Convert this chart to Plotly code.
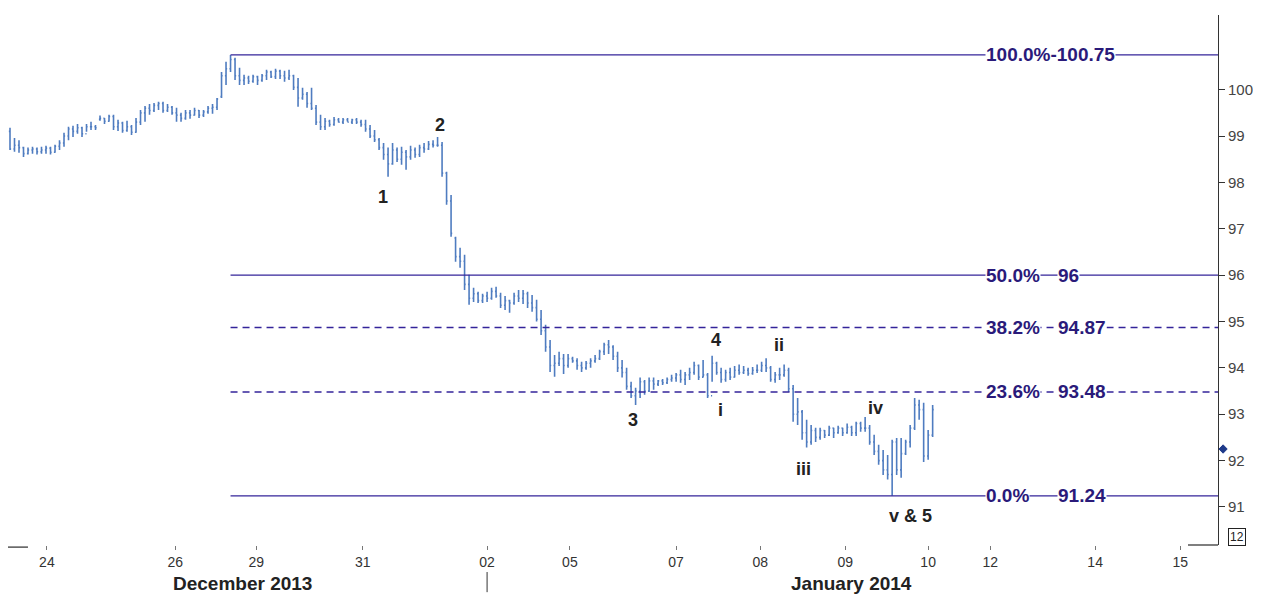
import plotly.graph_objects as go

# ---------------- data (hourly bars, 23 Dec 2013 - 10 Jan 2014) ----------------
high = [99.18, 98.96, 98.91, 98.77, 98.75, 98.77, 98.75, 98.77, 98.79, 98.77,
        98.81, 98.91, 99.07, 99.20, 99.22, 99.26, 99.20, 99.26, 99.31, 99.24,
        99.44, 99.39, 99.46, 99.46, 99.35, 99.31, 99.33, 99.24, 99.39, 99.56,
        99.65, 99.69, 99.71, 99.74, 99.74, 99.69, 99.65, 99.61, 99.50, 99.56,
        99.56, 99.61, 99.56, 99.56, 99.65, 99.69, 99.82, 100.38, 100.60, 100.75,
        100.69, 100.47, 100.32, 100.30, 100.32, 100.30, 100.34, 100.43, 100.41, 100.45,
        100.43, 100.41, 100.43, 100.32, 100.25, 100.04, 99.95, 100.04, 99.67, 99.46,
        99.39, 99.35, 99.41, 99.39, 99.39, 99.39, 99.37, 99.39, 99.35, 99.35,
        99.24, 99.13, 98.96, 98.85, 98.75, 98.85, 98.75, 98.77, 98.70, 98.79,
        98.75, 98.81, 98.85, 98.89, 98.91, 98.98, 98.87, 98.23, 97.73, 96.83,
        96.59, 96.44, 96.01, 95.73, 95.64, 95.60, 95.64, 95.73, 95.75, 95.62,
        95.55, 95.47, 95.62, 95.68, 95.68, 95.64, 95.57, 95.47, 95.25, 94.93,
        94.60, 94.28, 94.35, 94.30, 94.30, 94.24, 94.21, 94.13, 94.15, 94.21,
        94.28, 94.39, 94.54, 94.60, 94.49, 94.35, 94.17, 94.00, 93.70, 93.57,
        93.79, 93.74, 93.79, 93.79, 93.74, 93.76, 93.79, 93.85, 93.89, 93.96,
        93.91, 94.00, 94.13, 94.07, 94.17, 93.89, 94.26, 94.13, 94.00, 93.96,
        94.00, 94.04, 94.07, 94.04, 94.00, 94.02, 94.07, 94.13, 94.21, 94.04,
        93.91, 94.00, 94.07, 94.00, 93.63, 93.35, 93.09, 92.88, 92.77, 92.71,
        92.71, 92.66, 92.75, 92.71, 92.75, 92.71, 92.80, 92.75, 92.84, 92.84,
        92.94, 92.77, 92.56, 92.34, 92.23, 92.12, 92.45, 92.49, 92.49, 92.45,
        92.77, 93.35, 93.31, 93.25, 92.66, 93.20]

low = [98.70, 98.66, 98.64, 98.55, 98.60, 98.62, 98.60, 98.62, 98.62, 98.60,
       98.64, 98.70, 98.77, 98.91, 98.98, 99.05, 98.98, 99.09, 99.13, 99.13,
       99.33, 99.26, 99.31, 99.13, 99.11, 99.07, 99.09, 99.02, 99.07, 99.24,
       99.31, 99.46, 99.52, 99.56, 99.50, 99.52, 99.46, 99.31, 99.31, 99.35,
       99.37, 99.44, 99.39, 99.41, 99.48, 99.48, 99.56, 99.82, 100.10, 100.38,
       100.21, 100.10, 100.10, 100.12, 100.15, 100.10, 100.17, 100.21, 100.25, 100.23,
       100.23, 100.17, 100.21, 99.99, 99.63, 99.78, 99.61, 99.56, 99.24, 99.13,
       99.13, 99.20, 99.22, 99.29, 99.26, 99.31, 99.26, 99.26, 99.20, 99.09,
       98.96, 98.87, 98.70, 98.49, 98.12, 98.38, 98.44, 98.38, 98.27, 98.49,
       98.53, 98.55, 98.64, 98.70, 98.75, 98.77, 98.12, 97.52, 96.83, 96.29,
       96.16, 95.68, 95.36, 95.42, 95.40, 95.40, 95.42, 95.47, 95.51, 95.29,
       95.25, 95.19, 95.36, 95.42, 95.38, 95.29, 95.21, 95.00, 94.71, 94.35,
       93.91, 93.81, 94.04, 93.87, 94.00, 94.11, 93.96, 93.91, 93.96, 94.00,
       94.11, 94.17, 94.28, 94.30, 94.17, 93.91, 93.79, 93.53, 93.35, 93.20,
       93.35, 93.42, 93.48, 93.53, 93.61, 93.63, 93.65, 93.70, 93.70, 93.68,
       93.63, 93.74, 93.85, 93.74, 93.79, 93.35, 93.70, 93.85, 93.68, 93.70,
       93.74, 93.79, 93.85, 93.87, 93.83, 93.85, 93.89, 93.91, 93.91, 93.70,
       93.68, 93.74, 93.81, 93.48, 92.84, 92.77, 92.45, 92.28, 92.34, 92.40,
       92.45, 92.49, 92.53, 92.49, 92.58, 92.53, 92.58, 92.53, 92.53, 92.62,
       92.62, 92.34, 92.12, 91.91, 91.69, 91.59, 91.24, 91.69, 91.63, 92.12,
       92.28, 92.66, 92.88, 91.97, 92.02, 92.51]

open_ = [99.10, 98.72, 98.80, 98.75, 98.62, 98.70, 98.72, 98.66, 98.70, 98.74,
         98.65, 98.78, 98.85, 99.00, 99.15, 99.10, 99.18, 99.05, 99.20, 99.20,
         99.36, 99.38, 99.32, 99.42, 99.20, 99.28, 99.12, 99.20, 99.08, 99.30,
         99.50, 99.60, 99.55, 99.66, 99.70, 99.55, 99.62, 99.50, 99.45, 99.38,
         99.50, 99.45, 99.55, 99.45, 99.52, 99.60, 99.62, 99.85, 100.30, 100.45,
         100.65, 100.30, 100.20, 100.25, 100.18, 100.28, 100.20, 100.30, 100.38, 100.28,
         100.40, 100.30, 100.25, 100.30, 100.05, 99.82, 99.90, 99.70, 99.60, 99.30,
         99.20, 99.32, 99.25, 99.35, 99.30, 99.35, 99.30, 99.35, 99.30, 99.25,
         99.15, 99.00, 98.92, 98.75, 98.60, 98.40, 98.70, 98.50, 98.65, 98.55,
         98.70, 98.60, 98.75, 98.72, 98.82, 98.80, 98.80, 98.20, 97.60, 96.80,
         96.40, 96.30, 95.80, 95.50, 95.60, 95.45, 95.55, 95.50, 95.65, 95.55,
         95.35, 95.45, 95.40, 95.55, 95.50, 95.60, 95.40, 95.30, 95.05, 94.80,
         94.45, 94.05, 94.10, 94.20, 94.05, 94.20, 94.15, 94.05, 94.00, 94.10,
         94.15, 94.20, 94.35, 94.50, 94.45, 94.25, 94.00, 93.90, 93.60, 93.40,
         93.50, 93.70, 93.50, 93.72, 93.65, 93.72, 93.68, 93.75, 93.78, 93.85,
         93.75, 93.85, 93.90, 94.05, 93.80, 93.85, 93.40, 94.10, 93.90, 93.75,
         93.90, 93.80, 93.95, 93.90, 93.95, 93.88, 93.95, 93.95, 94.05, 94.00,
         93.75, 93.85, 93.85, 93.95, 93.55, 93.00, 93.05, 92.60, 92.40, 92.65,
         92.50, 92.65, 92.55, 92.70, 92.60, 92.70, 92.60, 92.72, 92.60, 92.80,
         92.70, 92.70, 92.40, 92.20, 92.00, 91.80, 91.70, 92.40, 91.80, 92.15,
         92.40, 92.70, 93.20, 93.10, 92.10, 92.55]

close = [98.72, 98.80, 98.75, 98.62, 98.70, 98.72, 98.66, 98.70, 98.74, 98.65,
         98.78, 98.85, 99.00, 99.15, 99.10, 99.18, 99.05, 99.20, 99.20, 99.18,
         99.38, 99.32, 99.42, 99.20, 99.28, 99.12, 99.20, 99.08, 99.30, 99.50,
         99.60, 99.55, 99.66, 99.70, 99.55, 99.62, 99.50, 99.45, 99.38, 99.50,
         99.45, 99.55, 99.45, 99.52, 99.60, 99.62, 99.80, 100.30, 100.45, 100.65,
         100.30, 100.20, 100.25, 100.18, 100.28, 100.20, 100.30, 100.38, 100.28, 100.40,
         100.30, 100.25, 100.30, 100.05, 99.82, 99.90, 99.70, 99.60, 99.30, 99.20,
         99.32, 99.25, 99.35, 99.30, 99.35, 99.30, 99.35, 99.30, 99.25, 99.15,
         99.00, 98.92, 98.75, 98.60, 98.40, 98.70, 98.50, 98.65, 98.55, 98.70,
         98.60, 98.75, 98.72, 98.82, 98.80, 98.80, 98.20, 97.60, 96.90, 96.40,
         96.30, 95.80, 95.50, 95.60, 95.45, 95.55, 95.50, 95.65, 95.55, 95.35,
         95.45, 95.40, 95.55, 95.50, 95.60, 95.40, 95.30, 95.05, 94.80, 94.45,
         94.05, 94.10, 94.20, 94.05, 94.20, 94.15, 94.05, 94.00, 94.10, 94.15,
         94.20, 94.35, 94.50, 94.45, 94.25, 94.00, 93.90, 93.60, 93.40, 93.50,
         93.70, 93.50, 93.72, 93.65, 93.72, 93.68, 93.75, 93.78, 93.85, 93.75,
         93.85, 93.90, 94.05, 93.80, 93.85, 93.40, 94.10, 93.90, 93.75, 93.90,
         93.80, 93.95, 93.90, 93.95, 93.88, 93.95, 93.95, 94.05, 94.00, 93.75,
         93.85, 93.85, 93.95, 93.55, 93.00, 93.05, 92.60, 92.40, 92.65, 92.50,
         92.65, 92.55, 92.70, 92.60, 92.70, 92.60, 92.72, 92.60, 92.80, 92.70,
         92.70, 92.40, 92.20, 92.00, 91.80, 91.70, 92.40, 91.80, 92.15, 92.40,
         92.70, 93.20, 93.10, 92.10, 92.55, 93.10]

bar_index = list(range(len(high)))

# date tick labels (positions on the bar-index scale)
tick_pos = [8.2, 36.7, 54.7, 78.4, 106.0, 124.4, 148.0, 166.7, 185.6, 204.0, 217.8, 241.1, 260.0]
tick_text = ["24", "26", "29", "31", "02", "05", "07", "08", "09", "10", "12", "14", "15"]
price_ticks = [91, 92, 93, 94, 95, 96, 97, 98, 99, 100]

# Fibonacci retracement of the swing 100.75 -> 91.24
fib_pct = ["100.0%", "50.0%", "38.2%", "23.6%", "0.0%"]
fib_val = [100.75, 96.0, 94.87, 93.48, 91.24]
fib_val_txt = ["100.75", "96", "94.87", "93.48", "91.24"]
fib_dash = ["solid", "solid", "7px,5px", "7px,5px", "solid"]
fib_start = 49  # bar index of the swing high

# Elliott wave labels
wave_text = ["1", "2", "3", "4", "i", "ii", "iii", "iv", "v & 5"]
wave_x = [82.9, 95.6, 138.4, 156.9, 157.8, 170.9, 176.4, 192.2, 200.0]
wave_y = [97.69, 99.24, 92.88, 94.60, 93.09, 94.49, 91.82, 93.14, 90.81]

last_marker = 92.25

X_MIN, X_MAX = -0.444, 268.4
Y_MIN, Y_MAX = 90.18, 101.61

FIB_LINE = "#34249a"
FIB_TEXT = "#2a1a7a"
BAR = "#4f7cc0"
FONT = "Liberation Sans, Arial, sans-serif"

fig = go.Figure()
fig.add_trace(go.Ohlc(
    x=bar_index, open=open_, high=high, low=low, close=close,
    increasing=dict(line=dict(color=BAR, width=1.6)),
    decreasing=dict(line=dict(color=BAR, width=1.6)),
    tickwidth=0.25, showlegend=False, hoverinfo="skip",
))

shapes = []
annotations = []
for pct, val, vtxt, dash in zip(fib_pct, fib_val, fib_val_txt, fib_dash):
    shapes.append(dict(type="line", xref="x", yref="y", x0=fib_start, x1=X_MAX,
                       y0=val, y1=val, line=dict(color=FIB_LINE, width=1.4, dash=dash)))
    font = dict(family=FONT, size=19, color=FIB_TEXT)
    if pct == "100.0%":
        annotations.append(dict(x=216.7, y=val, xref="x", yref="y", text="<b>%s-%s</b>" % (pct, vtxt),
                                showarrow=False, xanchor="left", yanchor="middle",
                                bgcolor="white", borderpad=0, font=font))
    else:
        annotations.append(dict(x=216.7, y=val, xref="x", yref="y", text="<b>%s</b>" % pct,
                                showarrow=False, xanchor="left", yanchor="middle",
                                bgcolor="white", borderpad=0, font=font))
        annotations.append(dict(x=232.6, y=val, xref="x", yref="y", text="<b>%s</b>" % vtxt,
                                showarrow=False, xanchor="left", yanchor="middle",
                                bgcolor="white", borderpad=0, font=font))

for t, xx, yy in zip(wave_text, wave_x, wave_y):
    annotations.append(dict(x=xx, y=yy, xref="x", yref="y", text="<b>%s</b>" % t,
                            showarrow=False, xanchor="center", yanchor="middle",
                            font=dict(family=FONT, size=18, color="#222222")))

# month labels
annotations.append(dict(x=51.6, y=-0.072, xref="x", yref="paper", text="<b>December 2013</b>",
                        showarrow=False, xanchor="center", yanchor="middle",
                        font=dict(family=FONT, size=19, color="#222222")))
annotations.append(dict(x=186.9, y=-0.072, xref="x", yref="paper", text="<b>January 2014</b>",
                        showarrow=False, xanchor="center", yanchor="middle",
                        font=dict(family=FONT, size=19, color="#222222")))
# period box
annotations.append(dict(x=1.0157, y=0.015, xref="paper", yref="paper", text="12",
                        showarrow=False, xanchor="center", yanchor="middle",
                        bordercolor="#222222", borderwidth=1, borderpad=1, bgcolor="white",
                        font=dict(family=FONT, size=12, color="#222222")))

# last-price diamond on the price axis
dx, dy = 0.0034, 0.09
cx = 1.0042
shapes.append(dict(type="path", xref="paper", yref="y",
                   path="M %f,%f L %f,%f L %f,%f L %f,%f Z" % (
                       cx - dx, last_marker, cx, last_marker + dy,
                       cx + dx, last_marker, cx, last_marker - dy),
                   fillcolor="#1f3a8a", line=dict(color="#1f3a8a", width=1)))

# month separator and bottom frame fragments
shapes.append(dict(type="line", xref="x", yref="paper", x0=106.0, x1=106.0, y0=-0.051, y1=-0.089,
                   line=dict(color="#333333", width=1)))
shapes.append(dict(type="line", xref="paper", yref="paper", x0=0.0, x1=0.0165, y0=-0.004, y1=-0.004,
                   line=dict(color="#555555", width=1.5)))
shapes.append(dict(type="line", xref="paper", yref="paper", x0=0.9752, x1=1.0, y0=0.0, y1=0.0,
                   line=dict(color="#555555", width=1.5)))

# the page body adds an 8 px offset, so the figure is sized to fill the remaining window
fig.update_layout(
    width=1253, height=587, autosize=False,
    margin=dict(l=0, r=43, t=7, b=50),
    paper_bgcolor="white", plot_bgcolor="white",
    shapes=shapes, annotations=annotations,
    showlegend=False,
    xaxis=dict(range=[X_MIN, X_MAX], tickmode="array", tickvals=tick_pos, ticktext=tick_text,
               showgrid=False, zeroline=False, showline=False, ticks="outside", ticklen=4,
               tickcolor="#777777", tickfont=dict(family=FONT, size=14, color="#333333"),
               rangeslider=dict(visible=False), fixedrange=True),
    yaxis=dict(range=[Y_MIN, Y_MAX], side="right", tickmode="array", tickvals=price_ticks,
               showgrid=False, zeroline=False, showline=True, linecolor="#333333", linewidth=1,
               ticks="outside", ticklen=6, tickcolor="#333333",
               tickfont=dict(family=FONT, size=15, color="#444444")),
)

fig.write_html("out.html")
